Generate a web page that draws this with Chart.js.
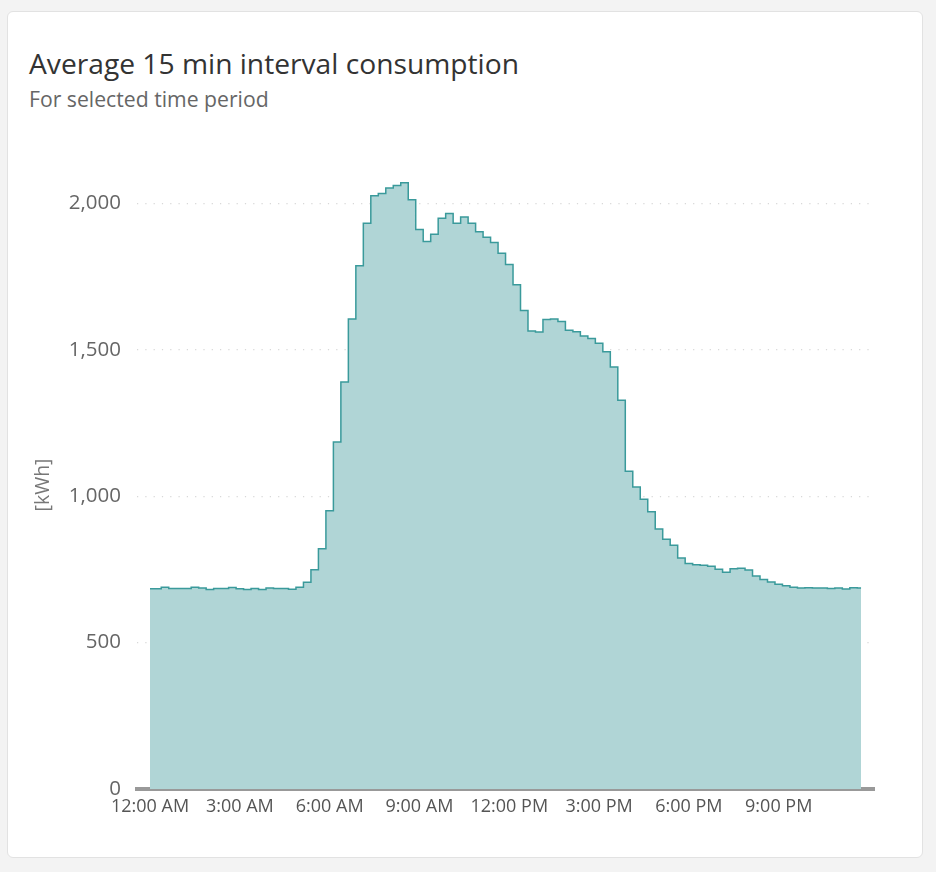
<!DOCTYPE html>
<html>
<head>
<meta charset="utf-8">
<script src="https://cdn.jsdelivr.net/npm/chart.js@4/dist/chart.umd.min.js"></script>
<style>
  html, body { margin: 0; padding: 0; background: #f3f3f3; width: 936px; height: 872px; overflow: hidden; }
  #card { position: absolute; left: 7px; top: 11px; width: 914px; height: 845px; background: #fff; border: 1px solid #e2e2e2; border-radius: 6px; }
  #title { position: absolute; left: 29px; top: 45px; font-family: "Open Sans", sans-serif; font-size: 28.2px; line-height: 1.3; color: #333; white-space: nowrap; }
  #subtitle { position: absolute; left: 29px; top: 85px; font-family: "Open Sans", sans-serif; font-size: 21.2px; line-height: 1.3; color: #666; white-space: nowrap; }
  #chart { position: absolute; left: 0; top: 0; }
</style>
</head>
<body>
<div id="card"></div>
<div id="title">Average 15 min interval consumption</div>
<div id="subtitle">For selected time period</div>
<canvas id="chart" width="936" height="872"></canvas>
<script>
// Average consumption per 15-minute interval (96 intervals, 12:00 AM .. 11:45 PM), kWh
const consumption = [
  684, 684, 689, 685, 685, 685, 689, 686, 681, 685,
  685, 688, 684, 681, 685, 681, 686, 685, 685, 682,
  689, 706, 749, 820, 950, 1185, 1390, 1605, 1787, 1932,
  2026, 2033, 2052, 2061, 2070, 2012, 1910, 1869, 1894, 1949,
  1965, 1932, 1953, 1932, 1903, 1884, 1866, 1829, 1791, 1722,
  1634, 1564, 1560, 1603, 1605, 1596, 1566, 1561, 1547, 1538,
  1522, 1493, 1441, 1327, 1085, 1031, 989, 947, 888, 853,
  832, 789, 770, 766, 764, 761, 750, 740, 752, 754,
  748, 727, 715, 707, 699, 694, 689, 686, 687, 686,
  686, 685, 686, 683, 687, 686
];
// X tick labels, one every 3 hours (every 12 intervals)
const timeTickLabels = ["12:00 AM", "3:00 AM", "6:00 AM", "9:00 AM", "12:00 PM", "3:00 PM", "6:00 PM", "9:00 PM"];
const intervalsPerTick = 12;
const yTickValues = [0, 500, 1000, 1500, 2000];
const yAxisTitle = "[kWh]";

const points = consumption.map((v, i) => ({ x: i, y: v }));

new Chart(document.getElementById('chart'), {
  type: 'line',
  data: {
    datasets: [{
      data: points,
      stepped: 'middle',
      borderColor: 'rgb(58,154,155)',
      borderWidth: 1.5,
      backgroundColor: 'rgb(176,213,214)',
      fill: 'origin',
      pointRadius: 0,
      tension: 0
    }]
  },
  options: {
    responsive: false,
    animation: false,
    devicePixelRatio: 1,
    layout: { padding: { left: 0, right: 62, top: 181, bottom: 0 } },
    plugins: { legend: { display: false }, tooltip: { enabled: false } },
    scales: {
      x: {
        type: 'linear',
        min: -1.74,
        max: 96.73,
        grid: { display: false, drawTicks: false },
        border: { display: true, color: '#999999', width: 4 },
        afterBuildTicks: (scale) => { scale.ticks = timeTickLabels.map((_, i) => ({ value: i * intervalsPerTick })); },
        afterFit: (scale) => { scale.height = 83; },
        ticks: {
          autoSkip: false,
          maxRotation: 0,
          padding: 7,
          color: '#555',
          font: { family: 'Open Sans', size: 18 },
          callback: (value) => timeTickLabels[Math.round(value / intervalsPerTick)]
        }
      },
      y: {
        min: 0,
        max: 2076,
        afterBuildTicks: (scale) => { scale.ticks = yTickValues.map(v => ({ value: v })); },
        afterFit: (scale) => { scale.width = 137; },
        grid: { color: '#d8d8d8', lineWidth: 1.2, drawTicks: false },
        border: { display: false, dash: [1.2, 7.1] },
        ticks: {
          padding: 16,
          color: '#666',
          font: { family: 'Open Sans', size: 20.5 },
          callback: (v) => v.toLocaleString('en-US')
        },
        title: {
          display: true,
          text: yAxisTitle,
          color: '#777',
          font: { family: 'Open Sans', size: 19.5 },
          padding: { top: 32, bottom: 0 }
        }
      }
    }
  }
});
</script>
</body>
</html>
